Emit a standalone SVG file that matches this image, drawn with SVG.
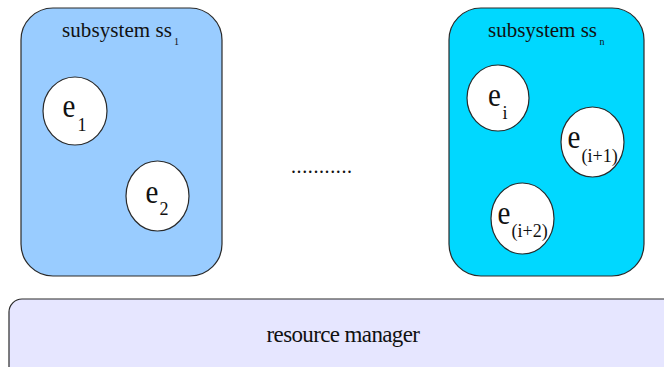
<svg xmlns="http://www.w3.org/2000/svg" width="664" height="367" viewBox="0 0 664 367">
  <g id="subsystem-1">
    <rect x="21" y="8" width="201" height="268" rx="32" ry="32" fill="#99ccff" stroke="#2a2a2a" stroke-width="1.2"/>
    <text font-family="Liberation Serif" font-size="21" fill="#111" x="62" y="36.5" textLength="110">subsystem ss</text>
    <text font-family="Liberation Serif" font-size="10" fill="#111" x="174" y="44.5">1</text>
  </g>

  <g id="e1">
    <ellipse cx="75" cy="111" rx="32" ry="34" fill="#ffffff" stroke="#2a2a2a" stroke-width="1.2"/>
    <text font-family="Liberation Serif" font-size="29" fill="#111" transform="translate(62.5,117) scale(1,1.15)">e</text>
    <text font-family="Liberation Serif" font-size="18" fill="#111" x="77.5" y="130.5">1</text>
  </g>

  <g id="e2">
    <ellipse cx="157.5" cy="196" rx="31.5" ry="35" fill="#ffffff" stroke="#2a2a2a" stroke-width="1.2"/>
    <text font-family="Liberation Serif" font-size="29" fill="#111" transform="translate(145.5,203) scale(1,1.15)">e</text>
    <text font-family="Liberation Serif" font-size="18" fill="#111" x="159.5" y="214.5">2</text>
  </g>

  <g id="ellipsis">
    <text font-family="Liberation Serif" font-size="20" fill="#111" x="291" y="173" textLength="61">...........</text>
  </g>

  <g id="subsystem-n">
    <rect x="449" y="8" width="195" height="268" rx="32" ry="32" fill="#00d8ff" stroke="#2a2a2a" stroke-width="1.2"/>
    <text font-family="Liberation Serif" font-size="21" fill="#111" x="488" y="36.5" textLength="109">subsystem ss</text>
    <text font-family="Liberation Serif" font-size="10" fill="#111" x="599.5" y="44.5">n</text>
  </g>

  <g id="ei">
    <ellipse cx="498" cy="98" rx="31" ry="33" fill="#ffffff" stroke="#2a2a2a" stroke-width="1.2"/>
    <text font-family="Liberation Serif" font-size="29" fill="#111" transform="translate(488,105.5) scale(1,1.15)">e</text>
    <text font-family="Liberation Serif" font-size="18" fill="#111" x="502.5" y="118.5">i</text>
  </g>

  <g id="ei1">
    <ellipse cx="592.5" cy="142" rx="31.5" ry="35" fill="#ffffff" stroke="#2a2a2a" stroke-width="1.2"/>
    <text font-family="Liberation Serif" font-size="29" fill="#111" transform="translate(567.5,147.5) scale(1,1.15)">e</text>
    <text font-family="Liberation Serif" font-size="18" fill="#111" x="581.5" y="161.5">(i+1)</text>
  </g>

  <g id="ei2">
    <ellipse cx="522.5" cy="218.5" rx="31.5" ry="35.5" fill="#ffffff" stroke="#2a2a2a" stroke-width="1.2"/>
    <text font-family="Liberation Serif" font-size="29" fill="#111" transform="translate(497.5,224) scale(1,1.15)">e</text>
    <text font-family="Liberation Serif" font-size="18" fill="#111" x="511.5" y="236.5">(i+2)</text>
  </g>

  <g id="resource-manager">
    <rect x="9" y="299" width="680" height="90" rx="13" ry="13" fill="#e6e6ff" stroke="#2a2a2a" stroke-width="1.2"/>
    <text font-family="Liberation Serif" font-size="23" fill="#111" x="266.5" y="341.5" textLength="153.5">resource manager</text>
  </g>

  <g id="connectors"></g>
</svg>
